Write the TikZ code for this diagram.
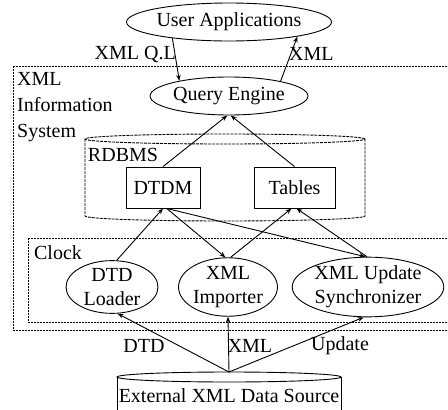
\documentclass[tikz,border=0pt]{standalone}
\usepackage{fontspec}
\setmainfont{Liberation Serif}
\usetikzlibrary{arrows.meta,shapes.geometric}
\begin{document}
\begin{tikzpicture}[x=1pt,y=-1pt,
  every node/.style={font=\fontsize{20}{24}\selectfont},
  ell/.style={draw,ellipse,inner sep=0pt,line width=0.9pt,align=center},
  boxn/.style={draw,rectangle,inner sep=0pt,line width=0.9pt},
  dotbox/.style={line width=0.9pt,dash pattern=on 2pt off 1pt},
  dbline/.style={line width=0.9pt,dash pattern=on 3pt off 1pt},
  conn/.style={line width=0.9pt,-{Stealth[length=6pt,width=4.5pt]}},
  lbl/.style={inner sep=0pt}]
\clip (0,0) rectangle (448,410);
% containers
\draw[dotbox] (13,66) rectangle (452,330);
\draw[dotbox] (28,238) rectangle (452,322);
% RDBMS cylinder
\draw[dbline] (225,139) ellipse [x radius=140pt, y radius=5pt];
\draw[dbline] (85,139) -- (85,216) arc[start angle=180, end angle=360, x radius=140pt, y radius=5pt] -- (365,139);
% External cylinder
\draw[line width=0.9pt] (229,377) ellipse [x radius=112pt, y radius=5pt];
\draw[line width=0.9pt] (117,377) -- (117,420);
\draw[line width=0.9pt] (341,377) -- (341,420);
% nodes
\node[ell,minimum width=156pt,minimum height=38pt] (ua) at (229,22) {User Applications};
\node[ell,minimum width=132pt,minimum height=38pt] (qe) at (229,96) {Query Engine};
\node[lbl,anchor=north west,align=left,font=\fontsize{20}{26}\selectfont] (sys) at (17,72) {XML\\Information\\System};
\node[lbl] (rdbms) at (123,155) {RDBMS};
\node[boxn,minimum width=74pt,minimum height=41pt] (dtdm) at (163,187.5) {DTDM};
\node[boxn,minimum width=81pt,minimum height=41pt] (tables) at (294.5,187.5) {Tables};
\node[lbl] (clock) at (58,253) {Clock};
\node[ell,minimum width=92pt,minimum height=52pt] (loader) at (112,287) {DTD\\Loader};
\node[ell,minimum width=90pt,minimum height=52pt] (imp) at (228,287) {XML\\Importer};
\node[ell,minimum width=140pt,minimum height=54pt] (sync) at (368,287) {XML Update\\Synchronizer};
\node[lbl] (ext) at (229,396) {External XML Data Source};
\coordinate (exttop) at (229,372);
\node[lbl,anchor=east] (lql) at (176,54) {XML Q.L};
\node[lbl,anchor=west] (lxml) at (289,54) {XML};
\node[lbl] (ldtd) at (144,346) {DTD};
\node[lbl] (lxml2) at (250,346) {XML};
\node[lbl] (lupd) at (340,346) {Update};
% connectors
\draw[conn] (ua.196) -- (qe.163);
\draw[conn] (qe.16) -- (ua.-12);
\draw[conn] (dtdm.north) -- (qe.265);
\draw[conn] (tables.north) -- (qe.275);
\draw[conn] (loader.80) -- (dtdm.south);
\draw[conn] (dtdm.-80) -- (imp.95);
\draw[conn] (imp.85) -- ([xshift=-3pt]tables.south);
\draw[conn] (sync.92) -- ([xshift=2pt]tables.south);
\draw[conn] (dtdm.-80) -- (sync.95);
\draw[conn] (exttop) -- (loader.-78);
\draw[conn] (exttop) -- (imp.south);
\draw[conn] (exttop) -- (sync.-98);
\end{tikzpicture}
\end{document}
